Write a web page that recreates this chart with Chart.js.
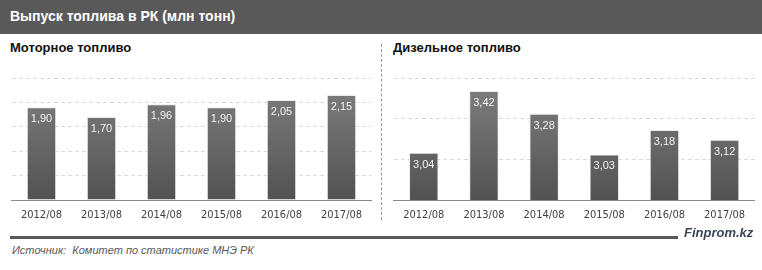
<!DOCTYPE html>
<html>
<head>
<meta charset="utf-8">
<script src="https://cdn.jsdelivr.net/npm/chart.js@4"></script>
<style>
  body { margin: 0; width: 762px; height: 270px; background: #fff; position: relative; overflow: hidden;
         font-family: 'Liberation Sans', Arial, sans-serif; }
  #head { position: absolute; left: 0; top: 0; width: 762px; height: 34px; background: #595959;
          color: #fff; font-weight: bold; font-size: 14px; line-height: 33px; padding-left: 10px; box-sizing: border-box; }
  .sub { position: absolute; top: 40px; font-weight: bold; font-size: 13px; color: #111; }
  .box { position: absolute; top: 60px; width: 380px; height: 170px; }
  #sep { position: absolute; left: 381px; top: 44px; height: 176px; border-left: 1px dashed #999; }
  #line { position: absolute; left: 10px; top: 236px; width: 668px; height: 3px; background: #595959; }
  #src { position: absolute; left: 12px; top: 244px; font-style: italic; font-size: 11px; color: #595959; }
  #brand { position: absolute; left: 684px; top: 225px; font-style: italic; font-weight: bold; font-size: 13px; color: #3c4654; }
</style>
</head>
<body>
<div id="head">Выпуск топлива в РК (млн тонн)</div>
<div class="sub" style="left:10px">Моторное топливо</div>
<div class="sub" style="left:393px">Дизельное топливо</div>
<div id="sep"></div>
<div class="box" style="left:0"><canvas id="motor"></canvas></div>
<div class="box" style="left:382px"><canvas id="diesel"></canvas></div>
<div id="line"></div>
<div id="src">Источник:&nbsp; Комитет по статистике МНЭ РК</div>
<div id="brand">Finprom.kz</div>
<script>
// Выпуск топлива, млн тонн
const periods = ['2012/08', '2013/08', '2014/08', '2015/08', '2016/08', '2017/08'];
const motorFuel = [1.90, 1.70, 1.96, 1.90, 2.05, 2.15];
const dieselFuel = [3.04, 3.42, 3.28, 3.03, 3.18, 3.12];

const tickFont = { family: "'Liberation Sans Narrow', 'DejaVu Sans Condensed', sans-serif", size: 11 };

// подписи значений внутри столбцов
const valueLabels = {
    id: 'valueLabels',
    afterDatasetsDraw(chart) {
        const c = chart.ctx;
        const meta = chart.getDatasetMeta(0);
        c.save();
        c.fillStyle = '#f4f4f4';
        c.font = "11px 'Liberation Sans', sans-serif";
        c.textAlign = 'center';
        c.textBaseline = 'middle';
        meta.data.forEach((bar, i) => {
            const v = chart.data.datasets[0].data[i];
            c.fillText(v.toFixed(2).replace('.', ','), bar.x, bar.y + 12);
        });
        c.restore();
    }
};

function barFill(context) {
    const area = context.chart.chartArea;
    if (!area) return '#666';
    const g = context.chart.ctx.createLinearGradient(0, area.top, 0, area.bottom);
    g.addColorStop(0, '#808080');
    g.addColorStop(1, '#525252');
    return g;
}

function makeChart(id, values, yMin, yMax, step, padLeft, padRight) {
    return new Chart(document.getElementById(id), {
        type: 'bar',
        data: {
            labels: periods,
            datasets: [{
                data: values,
                backgroundColor: barFill,
                borderColor: '#ebebeb',
                borderWidth: 1,
                borderSkipped: 'bottom',
                categoryPercentage: 1,
                barPercentage: 0.49
            }]
        },
        options: {
            responsive: false,
            animation: false,
            layout: { padding: { left: padLeft, right: padRight, top: 18, bottom: 0 } },
            plugins: { legend: { display: false }, tooltip: { enabled: false } },
            scales: {
                x: {
                    grid: { display: false, drawTicks: false },
                    border: { display: true, color: '#8a8a8a', width: 1 },
                    ticks: { color: '#404040', font: tickFont, padding: 9, maxRotation: 0 },
                    afterFit: s => { s.height = 30; }
                },
                y: {
                    min: yMin,
                    max: yMax,
                    ticks: { display: false, stepSize: step },
                    grid: { color: '#d9d9d9', drawTicks: false },
                    border: { display: false, dash: [4, 3] },
                    afterFit: s => { s.width = 0; }
                }
            }
        },
        plugins: [valueLabels]
    });
}

document.getElementById('motor').width = 380;
document.getElementById('motor').height = 170;
document.getElementById('diesel').width = 380;
document.getElementById('diesel').height = 170;

makeChart('motor', motorFuel, 0, 2.5, 0.5, 11.5, 8.5);
makeChart('diesel', dieselFuel, 2.75, 3.5, 0.25, 11.7, 7.3);
</script>
</body>
</html>
